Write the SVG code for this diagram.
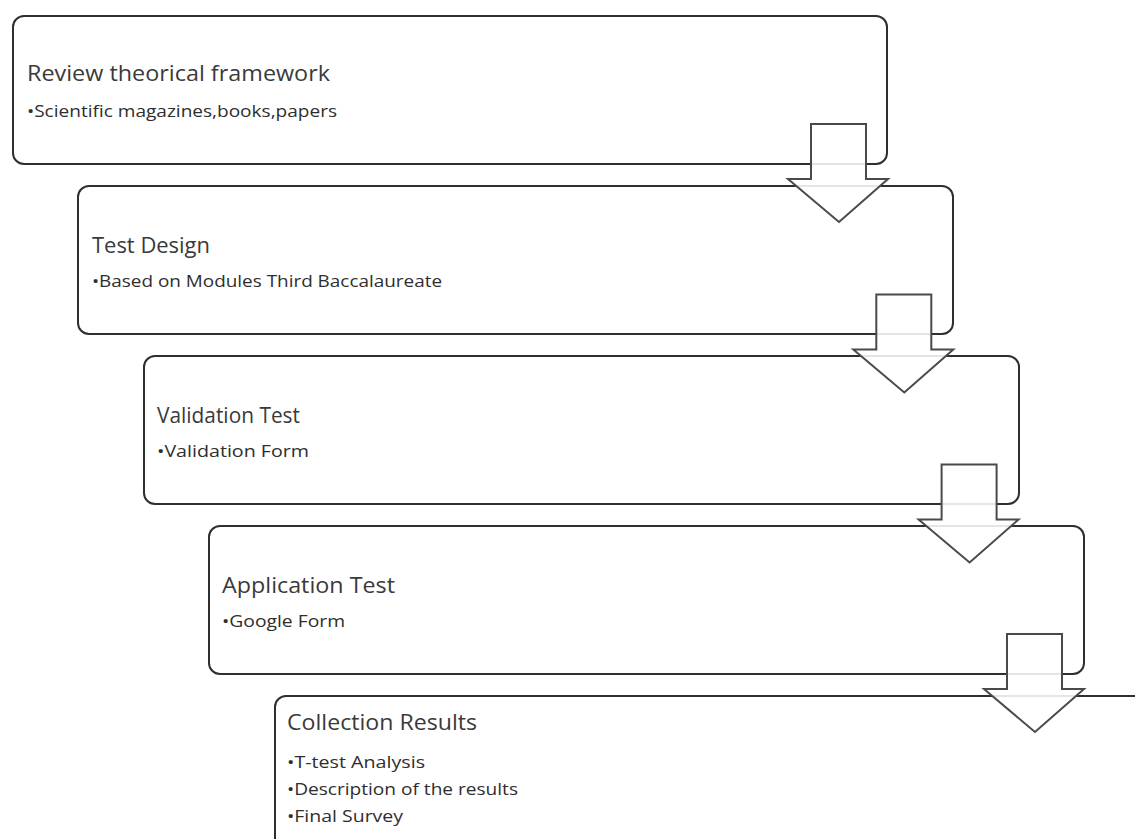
<svg xmlns="http://www.w3.org/2000/svg" width="1135" height="839" viewBox="0 0 1135 839">
<defs>
<style>
.box{fill:#fff;stroke:#2f2f2f;stroke-width:2}
.arrow{fill:#fff;fill-opacity:0.88;stroke:#4a4a4a;stroke-width:2;stroke-linejoin:miter}
.t{font-family:"Open Sans","Liberation Sans",sans-serif;font-size:21px;fill:#3a3a3a}
.b{font-family:"Open Sans","Liberation Sans",sans-serif;font-size:16px;fill:#2e2e2e}
</style>
<path id="arr" d="M811,124 H866 V179 H888 L839,222 L788,179 H811 Z"/>
</defs>
<rect width="1135" height="839" fill="#fff"/>
<g id="node1">
<rect class="box" x="13" y="16" width="874" height="148" rx="11"/>
<text class="t" x="27" y="81" textLength="303" lengthAdjust="spacingAndGlyphs">Review theorical framework</text>
<text class="b" x="27" y="117" textLength="310" lengthAdjust="spacingAndGlyphs">•Scientific magazines,books,papers</text>
</g>
<g id="node2">
<rect class="box" x="78" y="186" width="875" height="148" rx="11"/>
<text class="t" x="92" y="253" textLength="118" lengthAdjust="spacingAndGlyphs">Test Design</text>
<text class="b" x="92" y="287" textLength="350" lengthAdjust="spacingAndGlyphs">•Based on Modules Third Baccalaureate</text>
</g>
<g id="node3">
<rect class="box" x="144" y="356" width="875" height="148" rx="11"/>
<text class="t" x="157" y="423" textLength="143" lengthAdjust="spacingAndGlyphs">Validation Test</text>
<text class="b" x="157" y="457" textLength="152" lengthAdjust="spacingAndGlyphs">•Validation Form</text>
</g>
<g id="node4">
<rect class="box" x="209" y="526" width="875" height="148" rx="11"/>
<text class="t" x="222" y="593" textLength="173" lengthAdjust="spacingAndGlyphs">Application Test</text>
<text class="b" x="222" y="627" textLength="123" lengthAdjust="spacingAndGlyphs">•Google Form</text>
</g>
<g id="node5">
<rect class="box" x="275" y="696" width="900" height="200" rx="11"/>
<text class="t" x="287" y="730" textLength="190" lengthAdjust="spacingAndGlyphs">Collection Results</text>
<text class="b" x="287" y="768" textLength="138" lengthAdjust="spacingAndGlyphs">•T-test Analysis</text>
<text class="b" x="287" y="795" textLength="231" lengthAdjust="spacingAndGlyphs">•Description of the results</text>
<text class="b" x="287" y="822" textLength="116" lengthAdjust="spacingAndGlyphs">•Final Survey</text>
</g>
<g id="connectors">
<use href="#arr" class="arrow"/>
<use href="#arr" class="arrow" transform="translate(65.3,170.5)"/>
<use href="#arr" class="arrow" transform="translate(130.6,340.5)"/>
<use href="#arr" class="arrow" transform="translate(196,510)"/>
</g>
</svg>
